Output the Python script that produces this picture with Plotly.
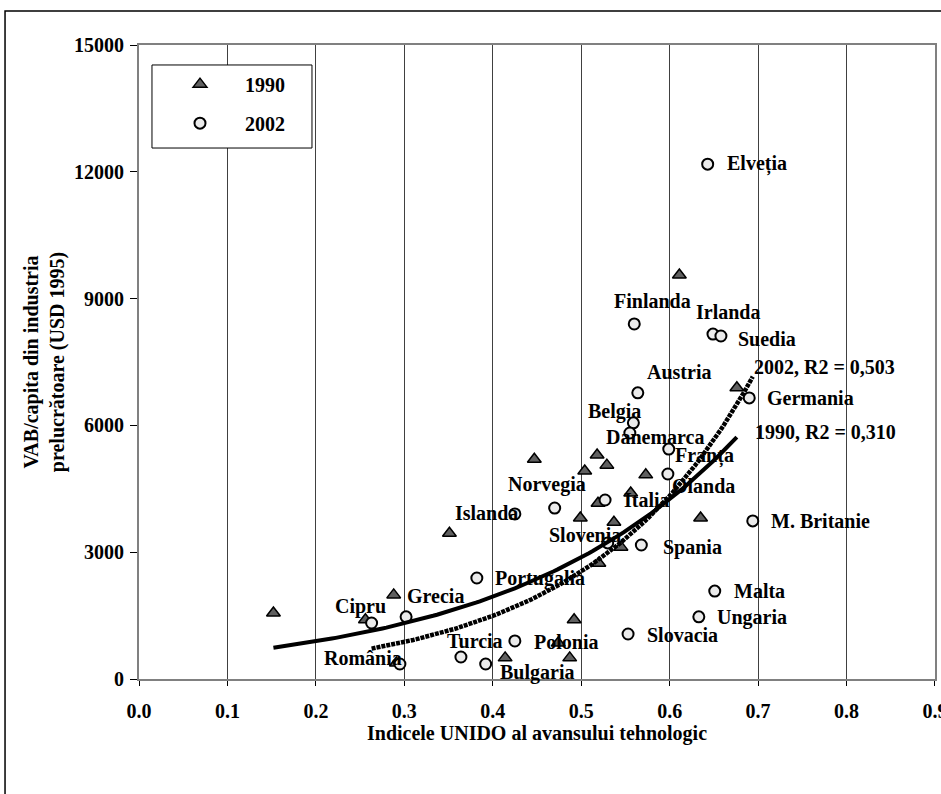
import numpy as np
import plotly.graph_objects as go

# ---------------- data ----------------
x1990 = [0.152, 0.256, 0.288, 0.291, 0.351, 0.447, 0.504, 0.518, 0.529, 0.573, 0.556, 0.519,
         0.499, 0.537, 0.635, 0.545, 0.520, 0.492, 0.474, 0.487, 0.414, 0.676, 0.611]
y1990 = [1560, 1400, 1990, 380, 3450, 5200, 4920, 5300, 5060, 4830, 4400, 4160,
         3810, 3710, 3810, 3120, 2740, 1400, 850, 500, 500, 6890, 9560]

countries2002 = ["Elveția", "Finlanda", "Irlanda", "Suedia", "Austria", "Germania", "Belgia",
                 "Danemarca", "Franța", "Olanda", "Italia", "M. Britanie", "Spania", "Malta",
                 "Ungaria", "Slovacia", "Slovenia", "Norvegia", "Islanda", "Portugalia", "Grecia",
                 "Cipru", "România", "Turcia", "Bulgaria", "Polonia"]
x2002 = [0.643, 0.560, 0.649, 0.658, 0.564, 0.690, 0.559, 0.555, 0.599, 0.598, 0.527, 0.694,
         0.568, 0.651, 0.633, 0.553, 0.530, 0.470, 0.425, 0.382, 0.302, 0.263, 0.295, 0.364,
         0.392, 0.425]
y2002 = [12180, 8400, 8160, 8115, 6770, 6650, 6060, 5820, 5440, 4850, 4235, 3740, 3170, 2080,
         1470, 1065, 3220, 4045, 3905, 2390, 1470, 1325, 355, 520, 355, 900]

# label offsets in pixels (dx to label's left edge, dy upward)
label_dx = [17, -22, -19, 15, 7, 16, -47, -26, 4, 2, 17, 16, 20, 17, 16, 17, -61, -49, -62, 16,
            -1, -39, -78, -16, 12, 17]
label_dy = [0, 23, 22, -3, 21, 0, 11, -4, -7, -12, 0, 0, -2, 0, -1, -1, 8, 24, 1, -1, 21, 17, 6,
            16, -8, -1]

r2_labels = {"2002": "2002, R2 = 0,503", "1990": "1990, R2 = 0,310"}

x_ticks = [0.0, 0.1, 0.2, 0.3, 0.4, 0.5, 0.6, 0.7, 0.8, 0.9]
y_ticks = [0, 3000, 6000, 9000, 12000, 15000]

FONT = "Liberation Serif"
FS = 20


def exp_fit(x, y):
    b, lna = np.polyfit(np.asarray(x), np.log(np.asarray(y)), 1)
    xs = np.linspace(min(x), max(x), 120)
    return xs, np.exp(lna) * np.exp(b * xs)


fig = go.Figure()

fig.add_trace(go.Scatter(
    x=x1990, y=y1990, mode="markers", name="1990", legendgroup="a",
    marker=dict(symbol="triangle-up", size=12, color="#606060",
                line=dict(color="black", width=1.5)),
))
fig.add_trace(go.Scatter(
    x=x2002, y=y2002, mode="markers", name="2002", legendgroup="b", text=countries2002,
    marker=dict(symbol="circle", size=11, color="#EBEBEB",
                line=dict(color="black", width=2)),
))

tx90, ty90 = exp_fit(x1990, y1990)
tx02, ty02 = exp_fit(x2002, y2002)

fig.add_trace(go.Scatter(x=tx02, y=ty02, mode="lines", showlegend=False,
                         line=dict(color="black", width=4.5, dash="4px,1px")))
fig.add_trace(go.Scatter(x=tx90, y=ty90, mode="lines", showlegend=False,
                         line=dict(color="black", width=4)))

annotations = []
for name, xv, yv, dx, dy in zip(countries2002, x2002, y2002, label_dx, label_dy):
    annotations.append(dict(x=xv, y=yv, text=name, showarrow=False, xanchor="left",
                            yanchor="middle", xshift=dx, yshift=dy,
                            font=dict(family=FONT, size=FS, color="black", weight="bold")))

annotations.append(dict(x=tx02[-1], y=ty02[-1], text=r2_labels["2002"], showarrow=False,
                        xanchor="left", yanchor="middle", xshift=-1, yshift=10,
                        font=dict(family=FONT, size=FS, color="black", weight="bold")))
annotations.append(dict(x=tx90[-1], y=ty90[-1], text=r2_labels["1990"], showarrow=False,
                        xanchor="left", yanchor="middle", xshift=16, yshift=5,
                        font=dict(family=FONT, size=FS, color="black", weight="bold")))

shapes = [
    # outer frame
    dict(type="rect", xref="paper", yref="paper", x0=-0.1683, x1=1.03, y0=-0.25, y1=1.0536,
         line=dict(color="black", width=1.5), fillcolor="rgba(0,0,0,0)", layer="above"),
    # legend box
    dict(type="rect", xref="paper", yref="paper", x0=0.0163, x1=0.2173, y0=0.8375, y1=0.9685,
         line=dict(color="black", width=1), fillcolor="white", layer="above"),
]

fig.update_layout(
    width=941, height=794,
    margin=dict(l=139, r=6, t=45, b=115, autoexpand=False),
    paper_bgcolor="white", plot_bgcolor="white",
    font=dict(family=FONT, size=FS, color="black", weight="bold"),
    showlegend=True,
    legend=dict(x=0.0201, y=0.969, xanchor="left", yanchor="top",
                bgcolor="rgba(0,0,0,0)", borderwidth=0, itemwidth=80,
                tracegroupgap=10,
                font=dict(family=FONT, size=FS, color="black", weight="bold")),
    annotations=annotations,
    shapes=shapes,
)

fig.update_xaxes(
    range=[0, 0.90005], tickvals=x_ticks, tickformat=".1f", ticklabeloverflow="allow",
    showgrid=True, gridcolor="#404040", gridwidth=1, zeroline=False,
    showline=True, linecolor="#808080", linewidth=2, mirror=True,
    ticks="outside", ticklen=5, tickcolor="black", ticklabelstandoff=8,
    tickfont=dict(family=FONT, size=FS, color="black", weight="bold"),
    title=dict(text="Indicele UNIDO al avansului tehnologic", standoff=0,
               font=dict(family=FONT, size=FS, color="black", weight="bold")),
)
fig.update_yaxes(
    range=[0, 15000], tickvals=y_ticks, tickformat="d",
    showgrid=False, zeroline=False,
    showline=True, linecolor="#808080", linewidth=2, mirror=True,
    ticks="outside", ticklen=7, tickcolor="black", ticklabelstandoff=2,
    tickfont=dict(family=FONT, size=FS, color="black", weight="bold"),
    title=dict(text="VAB/capita din industria<br>prelucrătoare (USD 1995)", standoff=4,
               font=dict(family=FONT, size=FS, color="black", weight="bold")),
)

fig.write_html("out.html", config={"displayModeBar": False},
               post_script="document.body.style.margin='0px';")
